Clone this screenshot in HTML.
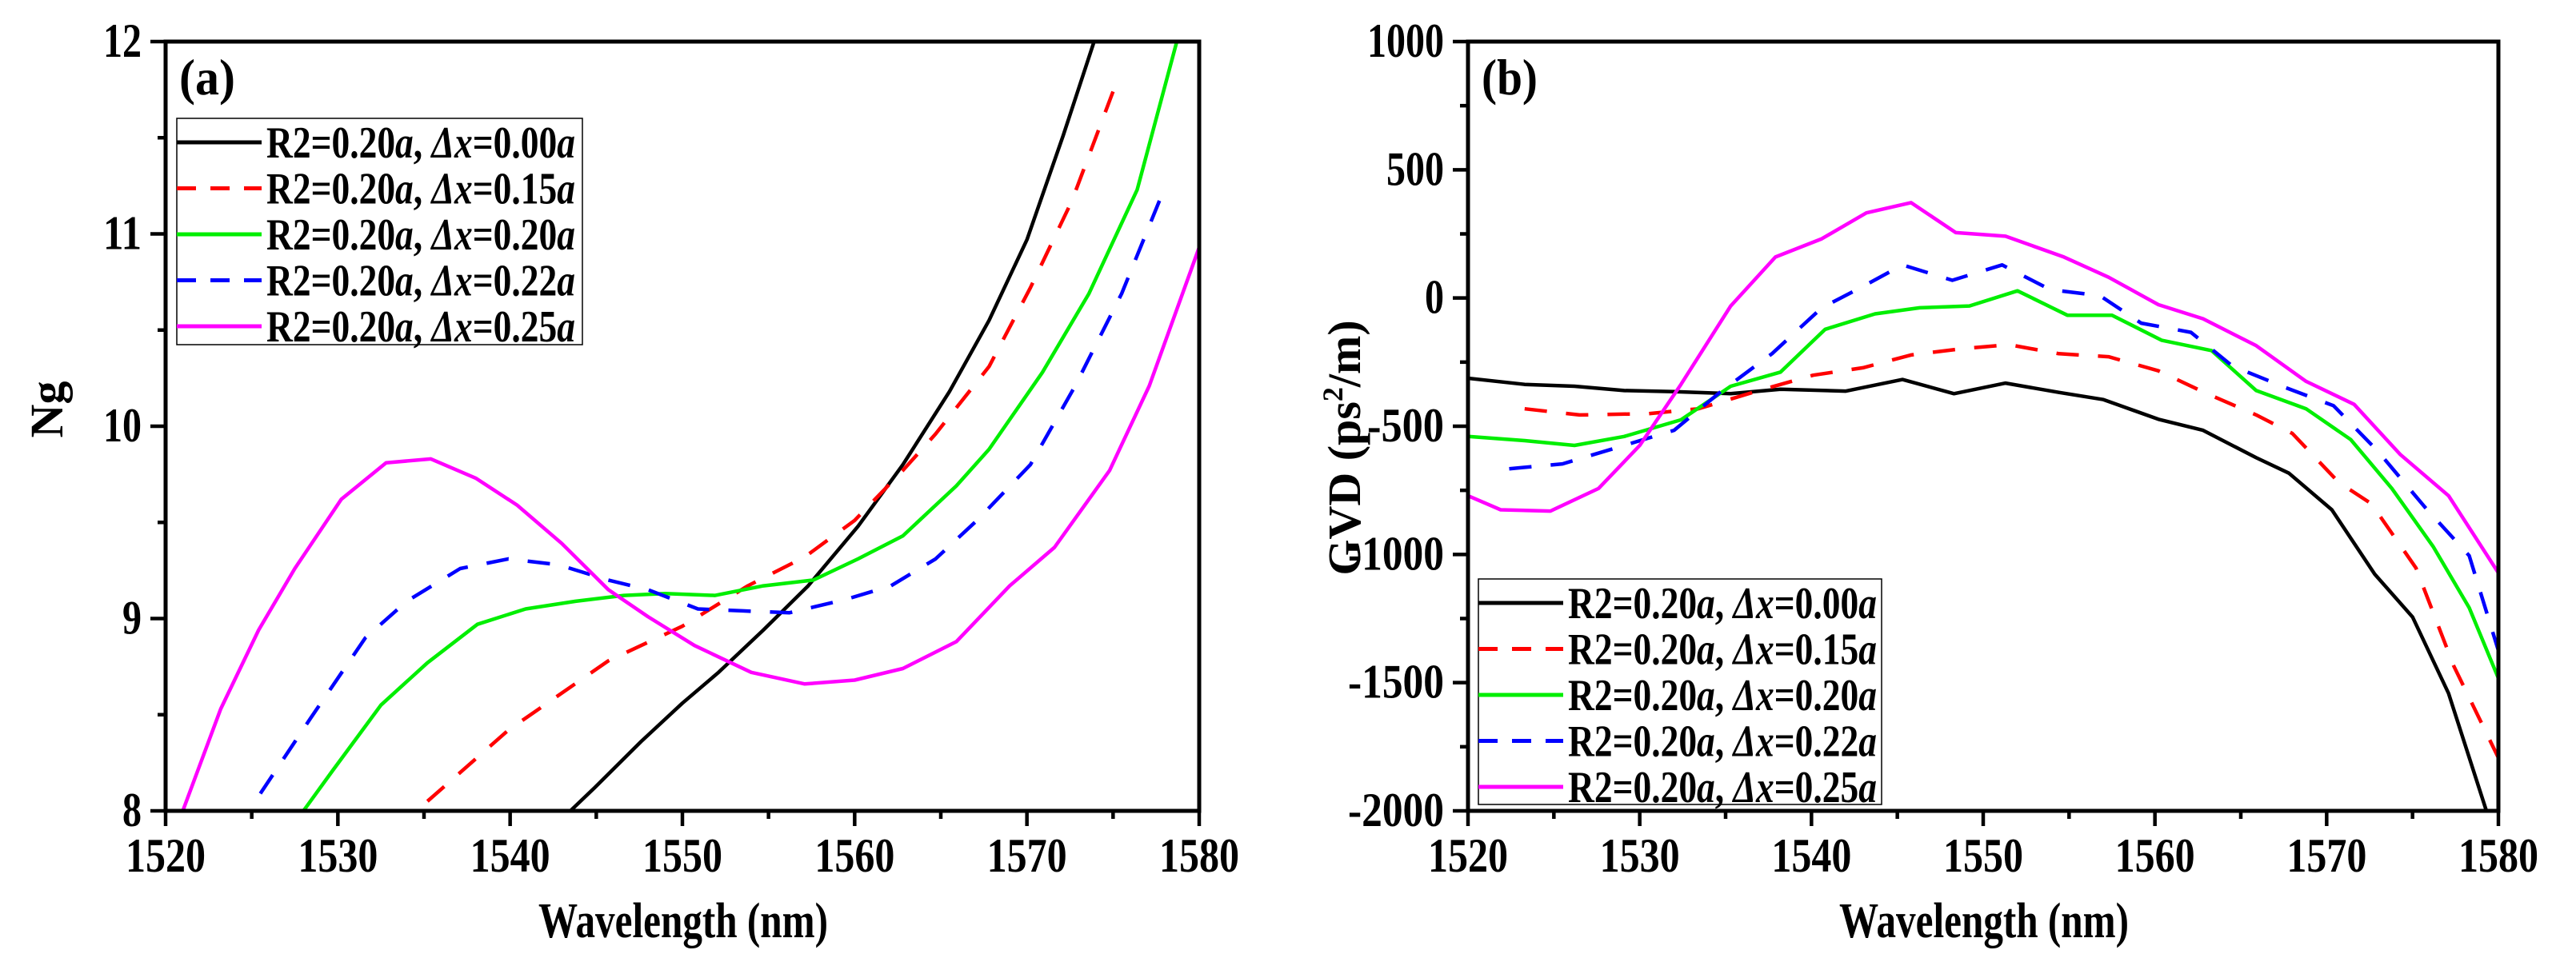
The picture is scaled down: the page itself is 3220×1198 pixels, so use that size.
<!DOCTYPE html>
<html><head><meta charset="utf-8">
<style>
html,body{margin:0;padding:0;background:#fff;}
svg{display:block;}
text{font-family:"Liberation Serif",serif;font-weight:bold;fill:#000;}
</style></head>
<body>
<svg id="fig" width="3220" height="1198" viewBox="0 0 3220 1198" xmlns="http://www.w3.org/2000/svg">
<g id="pa"></g>
<g id="pb"></g>
</svg>
<script>
// ---- Panel (a) data: group index Ng ----
const aK0x=[1543.5,1544.9,1547.6,1550,1552.1,1554.7,1557.3,1560.2,1562.8,1565.5,1567.8,1570,1572.1,1573.9];
const aK0y=[8.0,8.12,8.36,8.56,8.72,8.94,9.17,9.48,9.8,10.18,10.55,10.97,11.51,12.0];
const aR15x=[1535.2,1539.9,1545.7,1550,1553.8,1557.1,1560,1562.8,1564.7,1567.8,1570.2,1572.6,1575];
const aR15y=[8.05,8.42,8.78,8.96,9.17,9.32,9.51,9.77,9.96,10.31,10.72,11.17,11.74];
const aG20x=[1528,1529.7,1532.5,1535.2,1538.1,1540.9,1543.8,1546.6,1549,1551.9,1554.7,1557.6,1560.2,1562.8,1565.9,1567.8,1570.9,1573.6,1576.4,1578.7];
const aG20y=[8,8.21,8.55,8.77,8.97,9.05,9.09,9.12,9.13,9.12,9.17,9.2,9.31,9.43,9.69,9.88,10.28,10.69,11.23,12.0];
const aB22x=[1525.5,1528.4,1531.6,1534,1537.1,1539.9,1542.8,1545.7,1548,1550.9,1553.5,1556.2,1559.5,1562.1,1564.7,1567.1,1570.2,1572.8,1575.5,1578];
const aB22y=[8.09,8.48,8.9,9.09,9.26,9.31,9.28,9.2,9.15,9.05,9.04,9.03,9.10,9.17,9.31,9.51,9.8,10.21,10.69,11.24];
const aM25x=[1521,1523.2,1525.4,1527.5,1530.2,1532.8,1535.4,1538,1540.4,1543,1545.7,1548,1550.7,1554,1557.1,1560,1562.8,1565.9,1569,1571.6,1574.8,1577.1,1580];
const aM25y=[8,8.53,8.94,9.26,9.62,9.81,9.83,9.73,9.59,9.39,9.15,9.01,8.86,8.72,8.66,8.68,8.74,8.88,9.17,9.37,9.77,10.21,10.93];
// ---- Panel (b) data: GVD ----
const bK0x=[1520,1523.3,1526.2,1529.1,1532,1535.3,1538.2,1542,1545.3,1548.3,1551.3,1554.4,1557,1560.2,1562.8,1565.9,1567.8,1570.3,1572.8,1575,1577.1,1579.3];
const bK0y=[-313,-337,-344,-361,-365,-373,-356,-363,-318,-373,-332,-368,-396,-473,-516,-623,-683,-826,-1077,-1244,-1542,-2000];
const bR15x=[1523.3,1526.5,1530.5,1533.4,1537.2,1540.1,1543,1545.8,1548.7,1551.5,1554.4,1557.3,1560.2,1563,1565.9,1568,1570.7,1572.6,1575.2,1577.4,1580];
const bR15y=[-432,-456,-451,-432,-356,-301,-272,-222,-198,-182,-217,-229,-284,-372,-456,-528,-719,-802,-1053,-1435,-1793];
const bG20x=[1520,1523.3,1526.2,1529.1,1532.4,1535.3,1538.2,1540.8,1543.7,1546.3,1549.2,1552,1554.9,1557.5,1560.4,1563.3,1565.9,1568.8,1571.4,1573.8,1576.2,1578.3,1580];
const bG20y=[-540,-556,-575,-540,-475,-344,-289,-122,-62,-38,-31,28,-67,-67,-165,-205,-361,-432,-552,-743,-969,-1208,-1483];
const bB22x=[1522.4,1525.5,1529.1,1532,1534.8,1537.7,1540.6,1543,1545.3,1548.2,1551.1,1553.9,1556.8,1559.2,1562.1,1564.5,1567.6,1570.4,1573,1575.7,1578.3,1580];
const bB22y=[-666,-647,-575,-516,-361,-217,-38,45,129,69,129,33,9,-98,-134,-265,-349,-420,-599,-814,-1005,-1375];
const bM25x=[1520,1521.9,1524.8,1527.6,1530,1532.4,1535.3,1537.9,1540.6,1543.2,1545.8,1548.4,1551.3,1554.7,1557.3,1560.2,1562.8,1565.9,1568.8,1571.6,1574.3,1577.1,1580];
const bM25y=[-771,-826,-831,-743,-575,-337,-31,160,231,332,372,255,241,160,81,-26,-81,-186,-325,-415,-611,-771,-1072];
const xTicks=[1520,1530,1540,1550,1560,1570,1580];
const aYTicks=[8,9,10,11,12];
const bYTicks=[-2000,-1500,-1000,-500,0,500,1000];
const legendLabels=["0.00","0.15","0.20","0.22","0.25"];

const NS="http://www.w3.org/2000/svg";
function mk(parent,tag,attrs){const e=document.createElementNS(NS,tag);for(const k in attrs)e.setAttribute(k,attrs[k]);parent.appendChild(e);return e;}
const styles=[{c:"#000000",d:null},{c:"#ff0000",d:"28 24"},{c:"#00ee00",d:null},{c:"#0000ff",d:"28 24"},{c:"#ff00ff",d:null}];

function panel(g,o){
  const L=o.L,R=o.R,T=52,B=1014;
  const sx=v=>L+(v-1520)/60*(R-L);
  const sy=v=>B-(v-o.ymin)/(o.ymax-o.ymin)*(B-T);
  const cid="clip"+o.id;
  const cp=mk(g,"clipPath",{id:cid});mk(cp,"rect",{x:L,y:T,width:R-L,height:B-T});
  o.series.forEach((s,i)=>{
    const p=mk(g,"polyline",{points:s[0].map((x,j)=>sx(x).toFixed(1)+","+sy(s[1][j]).toFixed(1)).join(" "),fill:"none",stroke:styles[i].c,"stroke-width":4.5,"clip-path":"url(#"+cid+")","stroke-linejoin":"round"});
    if(styles[i].d)p.setAttribute("stroke-dasharray",styles[i].d);
    
    
  });
  const fr=mk(g,"rect",{x:L,y:T,width:R-L,height:B-T,fill:"none",stroke:"#000","stroke-width":5});
  
  
  for(let v=1520;v<=1580;v+=5){
    const major=(v%10===0);
    mk(g,"line",{x1:sx(v),x2:sx(v),y1:B,y2:B+(major?19:10),stroke:"#000","stroke-width":4.5});
  }
  xTicks.forEach(v=>{const s=String(v);const t=mk(g,"text",{x:sx(v),y:1090,"text-anchor":"middle","font-size":60,textLength:s.length*25,lengthAdjust:"spacingAndGlyphs"});t.textContent=s;
    
    });
  for(let v=o.ymin;v<=o.ymax+1e-9;v+=o.minor){
    const major=Math.abs(v/o.major-Math.round(v/o.major))<1e-6;
    mk(g,"line",{x1:L,x2:L-(major?19:10),y1:sy(v),y2:sy(v),stroke:"#000","stroke-width":4.5});
  }
  o.yt.forEach(v=>{const s=String(v);const t=mk(g,"text",{x:L-30-s.length*24,y:sy(v)+19,"font-size":60,textLength:s.length*24,lengthAdjust:"spacingAndGlyphs"});t.textContent=s;
    
    });
  const xt=mk(g,"text",{x:(L+R)/2-180,y:1172,"font-size":62,textLength:362,lengthAdjust:"spacingAndGlyphs"});xt.textContent="Wavelength (nm)";
  
  
  const yt=mk(g,"text",{x:0,y:0,"text-anchor":"middle","font-size":58,transform:"translate("+o.ytx+","+o.yty+") rotate(-90)"});
  yt.innerHTML=o.ytitle;
  
  
  const pl=mk(g,"text",{x:L+17,y:118,"font-size":64,textLength:70,lengthAdjust:"spacingAndGlyphs"});pl.textContent=o.lab;
  
  
  const lg=mk(g,"g",{});
  
  
  mk(lg,"rect",{x:o.lx,y:o.ly,width:o.lw,height:o.lh,fill:"#fff",stroke:"#000","stroke-width":1.5});
  legendLabels.forEach((lbl,i)=>{
    const yy=o.ly+30+i*57.5;
    const e=mk(lg,"g",{});
    
    
    const ln=mk(e,"line",{x1:o.lx,x2:o.lx+106,y1:yy,y2:yy,stroke:styles[i].c,"stroke-width":5});
    if(styles[i].d)ln.setAttribute("stroke-dasharray","24 18");
    const t=mk(e,"text",{x:o.lx+112,y:yy+19,"font-size":56,textLength:386,lengthAdjust:"spacingAndGlyphs"});
    t.innerHTML='R2=0.20<tspan font-style="italic">a</tspan>, <tspan font-style="italic">Δx</tspan>='+lbl+'<tspan font-style="italic">a</tspan>';
  });
}
panel(document.getElementById("pa"),{id:"a",L:207,R:1499,ymin:8,ymax:12,major:1,minor:0.5,yt:aYTicks,
  series:[[aK0x,aK0y],[aR15x,aR15y],[aG20x,aG20y],[aB22x,aB22y],[aM25x,aM25y]],
  ytitle:"Ng",ytx:78,yty:512,lab:"(a)",lx:221,ly:148,lw:507,lh:283});
panel(document.getElementById("pb"),{id:"b",L:1835,R:3123,ymin:-2000,ymax:1000,major:500,minor:250,yt:bYTicks,
  series:[[bK0x,bK0y],[bR15x,bR15y],[bG20x,bG20y],[bB22x,bB22y],[bM25x,bM25y]],
  ytitle:'GVD (ps<tspan font-size="36" dy="-22">2</tspan><tspan dy="22">/m)</tspan>',ytx:1700,yty:560,lab:"(b)",lx:1848,ly:724,lw:504,lh:282});
</script>
</body></html>
